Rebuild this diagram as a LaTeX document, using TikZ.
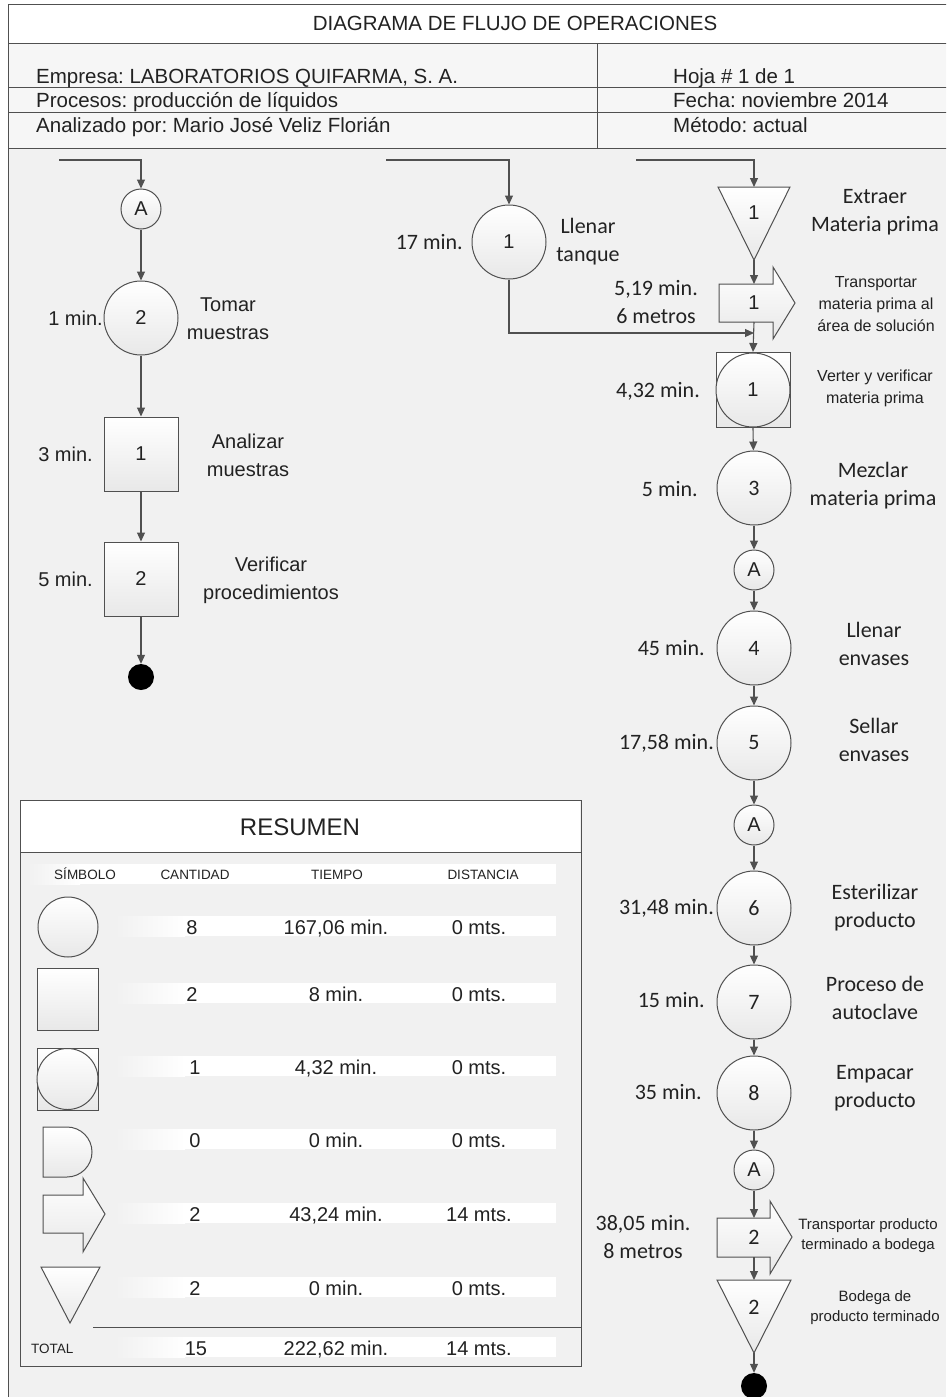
\documentclass[tikz,border=0pt]{standalone}
\usepackage{fontspec}
\setmainfont{Liberation Sans}
\newfontfamily\calfont{Carlito}
\usetikzlibrary{arrows.meta,calc}
\definecolor{bg}{HTML}{F1F1F1}
\definecolor{hdr}{HTML}{F6F6F6}
\definecolor{ln}{HTML}{505050}
\definecolor{tx}{HTML}{222222}
\tikzset{
  frame/.style={draw=ln, line width=1pt},
  arr/.style={draw=ln, line width=1.1pt, -{Triangle[length=9pt,width=8pt]}},
  shp/.style={draw=ln, line width=1pt, top color=white, bottom color=black!9},
  fA/.style={font=\fontsize{20}{28}\selectfont, text=tx},
  fC/.style={font=\calfont\fontsize{22}{28}\selectfont, text=tx},
  opA/.style={shp, circle, minimum size=74pt, inner sep=0pt, fA},
  opC/.style={shp, circle, minimum size=74pt, inner sep=0pt, fC},
  conn/.style={shp, circle, minimum size=40pt, inner sep=0pt, fA},
  insp/.style={shp, rectangle, minimum width=74pt, minimum height=74pt, inner sep=0pt, fA},
  enddot/.style={circle, fill=black, minimum size=26pt, inner sep=0pt},
  numA/.style={inner sep=0pt, fA},
  numC/.style={inner sep=0pt, fC},
  lblA/.style={inner sep=0pt, align=center, fA},
  lblC/.style={inner sep=0pt, align=center, fC},
  lblS/.style={inner sep=0pt, align=center, text=tx, font=\fontsize{16}{22}\selectfont},
  lblT/.style={inner sep=0pt, align=center, text=tx, font=\fontsize{15}{20}\selectfont},
  hd/.style={inner sep=0pt, text=tx, font=\fontsize{20.5}{24}\selectfont},
  colh/.style={inner sep=0pt, anchor=base, text=tx, font=\fontsize{13.5}{16}\selectfont},
  val/.style={inner sep=0pt, anchor=base, fA},
}
\newcommand\rowband[1]{%
  \shade[left color=bg, right color=white] (115,#1-11) rectangle (185,#1+9);
  \fill[white] (185,#1-11) rectangle (556,#1+9);}
\frenchspacing
\begin{document}
\begin{tikzpicture}[x=1pt,y=-1pt]
\useasboundingbox (0,0) rectangle (946,1397);
\clip (0,0) rectangle (946,1397);
% backgrounds
\fill[bg] (0,0) rectangle (946,1397);
\fill[white] (0,0) rectangle (8,1397);
\fill[white] (0,0) rectangle (946,5);
\fill[white] (8,5) rectangle (950,44);
\fill[hdr] (8,44) rectangle (950,148);
% header frame
\draw[frame] (8,1405) -- (8,5) -- (955,5);
\draw[frame] (8,44) -- (955,44);
\draw[frame] (8,87) -- (955,87);
\draw[frame] (8,112) -- (955,112);
\draw[frame] (8,148) -- (955,148);
\draw[frame] (597,44) -- (597,148);
\node[hd, anchor=base] (title) at (515,31) {DIAGRAMA DE FLUJO DE OPERACIONES};
\node[hd, anchor=base west] (emp) at (36,84) {Empresa: LABORATORIOS QUIFARMA, S. A.};
\node[hd, anchor=base west] (proc) at (36,107) {Procesos: producción de líquidos};
\node[hd, anchor=base west] (anal) at (36,132) {Analizado por: Mario José Veliz Florián};
\node[hd, anchor=base west] (hoja) at (673,84) {Hoja \# 1 de 1};
\node[hd, anchor=base west] (fecha) at (673,107) {Fecha: noviembre 2014};
\node[hd, anchor=base west] (metodo) at (673,132) {Método: actual};

% ---------------- left column ----------------
\coordinate (inL) at (59,160);
\node[conn] (A1) at (141,209) {A};
\node[opA] (L2) at (141,318) {2};
\node[insp] (I1) at (141,454) {1};
\node[insp] (I2) at (141,579) {2};
\node[enddot] (E1) at (141,677) {};
\draw[arr] (inL) -| (A1.north);
\draw[arr] (A1) -- (L2);
\draw[arr] (L2) -- (I1);
\draw[arr] (I1) -- (I2);
\draw[arr] (I2) -- (E1);
\node[lblA, anchor=east] (tL2) at (103,318) {1 min.};
\node[lblA] (dL2) at (228,319) {Tomar\\muestras};
\node[lblA, anchor=east] (tI1) at (93,454) {3 min.};
\node[lblA] (dI1) at (248,455) {Analizar\\muestras};
\node[lblA, anchor=east] (tI2) at (93,579) {5 min.};
\node[lblA] (dI2) at (271,580) {Verificar\\procedimientos};

% ---------------- middle ----------------
\coordinate (inM) at (386,160);
\node[opA] (O1) at (509,242) {1};
\node[lblC, anchor=east] (tO1) at (463,242) {17 min.};
\node[lblC] (dO1) at (588,242) {Llenar\\tanque};
\draw[arr] (inM) -| (O1.north);
\coordinate (jn) at (754,333);
\draw[arr] (O1.south) |- (jn);

% ---------------- right column ----------------
\coordinate (inR) at (636,160);
\coordinate (T1top) at (754,187);
\coordinate (T1apex) at (754,260);
\draw[shp] (718,187) -- (790,187) -- (T1apex) -- cycle;
\node[numA] (T1) at (754,213) {1};
\draw[arr] (inR) -| (T1top);
\node[lblC] (dT1) at (875,212) {Extraer\\Materia prima};

\coordinate (R1c) at (754,303);
\draw[shp] ($(R1c)+(-35,-19)$) -- ($(R1c)+(19,-19)$) -- ($(R1c)+(19,-36)$) -- ($(R1c)+(41,0)$)
  -- ($(R1c)+(19,36)$) -- ($(R1c)+(19,19)$) -- ($(R1c)+(-35,19)$) -- cycle;
\node[numA] (R1) at (R1c) {1};
\coordinate (R1n) at ($(R1c)+(0,-19)$);
\coordinate (R1s) at ($(R1c)+(0,19)$);
\draw[arr] (T1apex) -- (R1n);
\node[lblC] (tR1) at (656,302) {5,19 min.\\6 metros};
\node[lblS] (dR1) at (876,304) {Transportar\\materia prima al\\área de solución};

\node[insp, minimum width=74pt, minimum height=75pt] (V1) at (753,390) {};
\node[shp, circle, minimum size=74pt, inner sep=0pt, fA] (V1c) at (753,390) {1};
\draw[arr] (R1s) -- (V1.north);
\node[lblC, anchor=east] (tV1) at (700,391) {4,32 min.};
\node[lblS] (dV1) at (875,388) {Verter y verificar\\materia prima};

\node[opC] (O3) at (754,488) {3};
\node[conn] (A2) at (754,570) {A};
\node[opC] (O4) at (754,648) {4};
\node[opC] (O5) at (754,743) {5};
\node[conn] (A3) at (754,825) {A};
\node[opC] (O6) at (754,908) {6};
\node[opC] (O7) at (754,1002) {7};
\node[opC] (O8) at (754,1093) {8};
\node[conn] (A4) at (754,1170) {A};
\draw[arr] (V1.south) -- (O3);
\draw[arr] (O3) -- (A2);
\draw[arr] (A2) -- (O4);
\draw[arr] (O4) -- (O5);
\draw[arr] (O5) -- (A3);
\draw[arr] (A3) -- (O6);
\draw[arr] (O6) -- (O7);
\draw[arr] (O7) -- (O8);
\draw[arr] (O8) -- (A4);
\node[lblC, anchor=east] (tO3) at (698,489) {5 min.};
\node[lblC] (dO3) at (873,486) {Mezclar\\materia prima};
\node[lblC, anchor=east] (tO4) at (705,648) {45 min.};
\node[lblC] (dO4) at (874,644) {Llenar\\envases};
\node[lblC, anchor=east] (tO5) at (714,743) {17,58 min.};
\node[lblC] (dO5) at (874,740) {Sellar\\envases};
\node[lblC, anchor=east] (tO6) at (714,908) {31,48 min.};
\node[lblC] (dO6) at (875,908) {Esterilizar\\producto};
\node[lblC, anchor=east] (tO7) at (705,1000) {15 min.};
\node[lblC] (dO7) at (875,998) {Proceso de\\autoclave};
\node[lblC, anchor=east] (tO8) at (702,1092) {35 min.};
\node[lblC] (dO8) at (875,1088) {Empacar\\producto};

\coordinate (R2c) at (754,1237);
\draw[shp] ($(R2c)+(-37,-19)$) -- ($(R2c)+(16,-19)$) -- ($(R2c)+(16,-36)$) -- ($(R2c)+(38,0)$)
  -- ($(R2c)+(16,37)$) -- ($(R2c)+(16,20)$) -- ($(R2c)+(-37,20)$) -- cycle;
\node[numC] (R2) at (R2c) {2};
\coordinate (R2n) at ($(R2c)+(0,-19)$);
\coordinate (R2s) at ($(R2c)+(0,20)$);
\draw[arr] (A4) -- (R2n);
\node[lblC] (tR2) at (643,1237) {38,05 min.\\8 metros};
\node[lblT] (dR2) at (868,1236) {Transportar producto\\terminado a bodega};

\coordinate (T2top) at (754,1280);
\coordinate (T2apex) at (754,1353);
\draw[shp] (717,1280) -- (791,1280) -- (T2apex) -- cycle;
\node[numC] (T2) at (754,1307) {2};
\draw[arr] (R2s) -- (T2top);
\node[lblT] (dT2) at (875,1308) {Bodega de\\producto terminado};
\node[enddot] (E2) at (754,1386) {};
\draw[arr] (T2apex) -- (E2);

% ---------------- summary ----------------
\filldraw[fill=bg, draw=ln, line width=1pt] (20,800) rectangle (581,1366);
\fill[white] (21,801) rectangle (580,852);
\draw[frame] (20,852) -- (581,852);
\node[inner sep=0pt, text=tx, font=\fontsize{24}{28}\selectfont] (res) at (300,827) {RESUMEN};
\shade[left color=bg, right color=white] (28,864) rectangle (80,884);
\fill[white] (80,864) rectangle (556,884);
\node[colh] (h1) at (85,879) {SÍMBOLO};
\node[colh] (h2) at (195,879) {CANTIDAD};
\node[colh] (h3) at (337,879) {TIEMPO};
\node[colh] (h4) at (483,879) {DISTANCIA};
\rowband{927}\rowband{994}\rowband{1067}\rowband{1140}\rowband{1214}\rowband{1288}\rowband{1348}
% symbols
\node[shp, circle, minimum size=60pt, inner sep=0pt] (s1) at (68,927) {};
\node[shp, rectangle, minimum width=61pt, minimum height=62pt, inner sep=0pt] (s2) at (67.5,999) {};
\node[shp, rectangle, minimum width=61pt, minimum height=62pt, inner sep=0pt] (s3) at (67.5,1079) {};
\node[shp, circle, minimum size=61pt, inner sep=0pt] (s3c) at (67.5,1079) {};
\draw[shp] (43,1127) -- (67,1127) .. controls (80.8,1127) and (92,1138.2) .. (92,1152)
  .. controls (92,1165.8) and (80.8,1177) .. (67,1177) -- (43,1177) -- cycle;
\draw[shp] (43,1195) -- (83,1195) -- (83,1178) -- (105,1214) -- (83,1252) -- (83,1233) -- (43,1233) -- cycle;
\draw[shp] (41,1267) -- (100,1267) -- (70,1323) -- cycle;
\draw[frame] (93,1327) -- (581,1327);
% values
\node[val] (c1) at (192,934) {8};      \node[val] (t1) at (336,934) {167,06 min.}; \node[val] (d1) at (479,934) {0 mts.};
\node[val] (c2) at (192,1001) {2};     \node[val] (t2) at (336,1001) {8 min.};      \node[val] (d2) at (479,1001) {0 mts.};
\node[val] (c3) at (195,1074) {1};     \node[val] (t3) at (336,1074) {4,32 min.};  \node[val] (d3) at (479,1074) {0 mts.};
\node[val] (c4) at (195,1147) {0};     \node[val] (t4) at (336,1147) {0 min.};     \node[val] (d4) at (479,1147) {0 mts.};
\node[val] (c5) at (195,1221) {2};     \node[val] (t5) at (336,1221) {43,24 min.}; \node[val] (d5) at (479,1221) {14 mts.};
\node[val] (c6) at (195,1295) {2};     \node[val] (t6) at (336,1295) {0 min.};     \node[val] (d6) at (479,1295) {0 mts.};
\node[colh, anchor=base west] (tot) at (31,1353) {TOTAL};
\node[val] (c7) at (196,1355) {15};    \node[val] (t7) at (336,1355) {222,62 min.}; \node[val] (d7) at (479,1355) {14 mts.};
\end{tikzpicture}
\end{document}
